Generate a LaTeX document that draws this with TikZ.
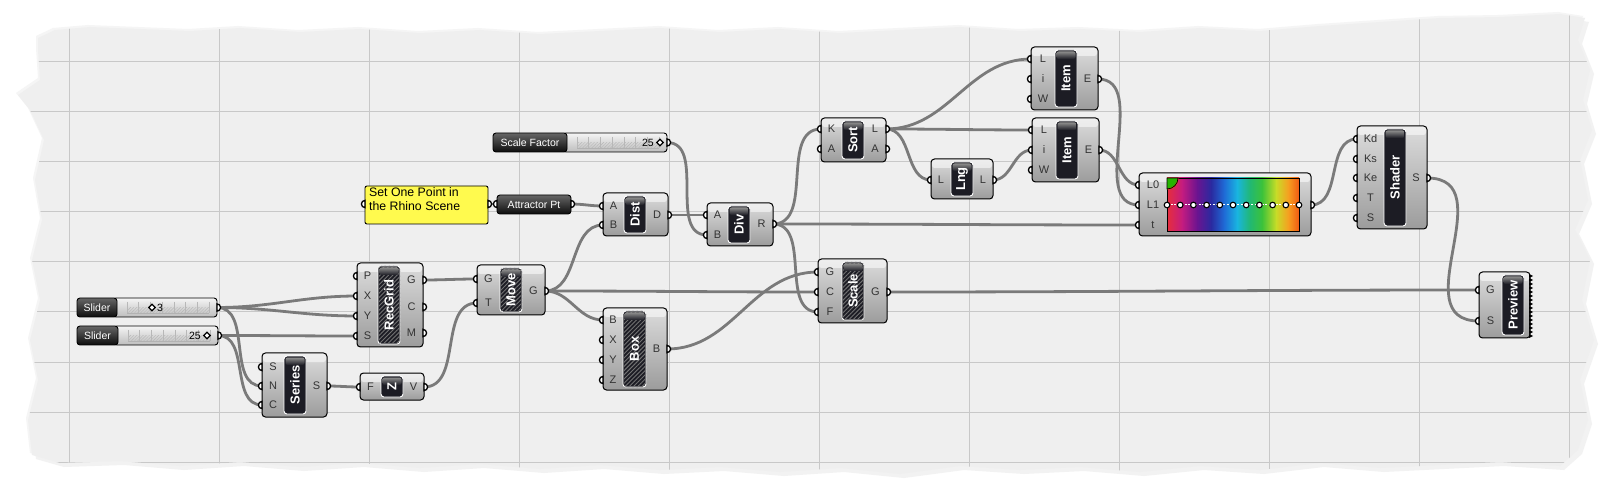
\documentclass[tikz,border=0pt]{standalone}
\usepackage{fontspec}
\setmainfont{Liberation Sans}
\usetikzlibrary{fit,patterns.meta}
\pgfdeclarelayer{bg}
\pgfdeclarelayer{wires}
\pgfsetlayers{bg,wires,main}
\definecolor{paper}{HTML}{EFEFEF}
\definecolor{gridc}{HTML}{C8C8C8}
\definecolor{wirec}{HTML}{7A7A7A}
\definecolor{capc}{HTML}{1C1C24}
\definecolor{panelc}{HTML}{FFFA4E}
\definecolor{boxtop}{HTML}{DCDCDC}
\definecolor{boxbot}{HTML}{9C9C9C}
\definecolor{gA}{HTML}{E62E3C}
\definecolor{gB}{HTML}{C41C80}
\definecolor{gC}{HTML}{6A1490}
\definecolor{gD}{HTML}{2A2AA0}
\definecolor{gE}{HTML}{1F6BD6}
\definecolor{gF}{HTML}{19B5E0}
\definecolor{gG}{HTML}{22B872}
\definecolor{gH}{HTML}{3CC23A}
\definecolor{gI}{HTML}{C8DC28}
\definecolor{gJ}{HTML}{F5A020}
\definecolor{gK}{HTML}{F05A14}
\tikzset{
  ghbox/.style={draw=black, line width=1pt, rounded corners=3.5pt, top color=boxtop, bottom color=boxbot, inner sep=0pt},
  ghcap/.style={draw=white, line width=0.9pt, fill=capc, rounded corners=3pt, inner sep=0pt},
  hatchcap/.style={ghcap, postaction={pattern={Lines[angle=45,distance=3pt,line width=0.9pt]}, pattern color=black!55!white}},
  port/.style={draw=black, line width=1.3pt, fill=white},
  plabel/.style={font=\fontsize{11}{12}\selectfont, text=black!80, inner sep=0pt},
  cname/.style={font=\bfseries\fontsize{13}{14}\selectfont, text=white, rotate=90, inner sep=0pt},
  wire/.style={draw=wirec, line width=2.8pt, line cap=round},
  vallabel/.style={font=\fontsize{10.5}{12}\selectfont, text=black, inner sep=0pt},
}
\newcommand\ghinp[3]{%
  \coordinate (#1) at ({#2},{#3});
  \draw[port] ({#2},{#3-3.6}) arc[start angle=90,end angle=270,radius=3.6pt] -- cycle;}
\newcommand\ghoutp[3]{%
  \coordinate (#1) at ({#2},{#3});
  \draw[port] ({#2},{#3-3.6}) arc[start angle=90,end angle=-90,radius=3.6pt] -- cycle;}
\newcommand\ghin[5]{\ghinp{#1}{#2}{#3}\node[plabel] at ({#4},{#3}) {#5};}
\newcommand\ghout[5]{\ghoutp{#1}{#2}{#3}\node[plabel] at ({#4},{#3}) {#5};}
\newcommand\ghcomp[9]{%
  \node[ghbox, fit={(#2,#3) (#4,#5)}] (#1) {};
  \fill[white, opacity=0.55, rounded corners=2.5pt] ({#2+1},{#3+1}) rectangle ({#4-1},{#3+9});
  \node[#9, fit={(#6,#3+3) (#7,#5-3)}] (#1cap) {};
  \shade[top color=black!45, bottom color=capc, rounded corners=2pt] ({#6+1.5},{#3+4.5}) rectangle ({#7-1.5},{#3+12});
  \node[cname] at (#1cap.center) {#8};}
\newcommand\ghslider[8]{%
  \node[fit={(#4-4,#3) (#5,#6)}, inner sep=0pt, draw=black, line width=0.9pt, rounded corners=3pt, top color=black!4, bottom color=black!26] (#1) {};
  \fill[pattern={Lines[angle=45,distance=2.2pt,line width=0.45pt]}, pattern color=black!28] ({#4+10},{(#3+#6)/2}) rectangle ({#5-8},{#6-4});
  \foreach \t in {0,...,7} \draw[black!28, line width=0.6pt] ({#4+10+\t*(#5-#4-18)/7},{#3+4}) -- ({#4+10+\t*(#5-#4-18)/7},{#6-4});
  \draw[black!30, line width=0.5pt] ({#4+10},{#6-4}) -- ({#5-8},{#6-4});
  \node[fit={(#2,#3) (#4,#6)}, inner sep=0pt, draw=black, line width=0.9pt, rounded corners=3pt, top color=black!60, bottom color=black!95] (#1lab) {};
  \node[font=\fontsize{10.5}{12}\selectfont, text=white, inner sep=0pt] at (#1lab.center) {#7};
  \ghoutp{#1o}{#5}{#8}}
\newcommand\ghdiam[2]{\draw[black, line width=1.3pt, fill=white] ({#1},{#2-3.2}) -- ({#1+3.2},{#2}) -- ({#1},{#2+3.2}) -- ({#1-3.2},{#2}) -- cycle;}
\def\paperpts{(38,38) -- (55,30) -- (90,27) -- (140,29) -- (190,31) -- (240,28) -- (300,32) -- (360,29) -- (420,33) -- (480,30) -- (540,34) -- (600,31) -- (660,28) -- (720,32) -- (780,29) -- (840,33) -- (900,30) -- (960,27) -- (1020,31) -- (1080,29) -- (1140,32) -- (1200,28) -- (1260,31) -- (1320,26) -- (1380,22) -- (1440,18) -- (1500,17) -- (1560,14) -- (1585,18) -- (1578,40) -- (1590,70) -- (1583,100) -- (1592,130) -- (1580,160) -- (1588,200) -- (1575,230) -- (1590,260) -- (1582,300) -- (1594,340) -- (1580,380) -- (1588,420) -- (1578,450) -- (1560,466) -- (1500,462) -- (1440,465) -- (1380,468) -- (1320,463) -- (1260,470) -- (1200,466) -- (1140,472) -- (1080,467) -- (1020,470) -- (960,466) -- (900,474) -- (840,468) -- (780,472) -- (720,467) -- (660,470) -- (600,465) -- (540,469) -- (480,464) -- (420,468) -- (360,463) -- (300,467) -- (240,462) -- (180,466) -- (120,461) -- (60,463) -- (32,455) -- (28,420) -- (38,380) -- (30,340) -- (40,300) -- (32,260) -- (42,220) -- (35,180) -- (44,140) -- (30,110) -- (18,95) -- (40,80) -- (38,50) -- cycle}
\begin{document}
\begin{tikzpicture}[x=1pt,y=-1pt]
\useasboundingbox (0,0) rectangle (1604,494);
\begin{pgfonlayer}{bg}
\fill[white] (0,0) rectangle (1604,494);
\fill[black!5, shift={(4,4)}] \paperpts;
\fill[black!4, shift={(-2,-2)}] \paperpts;
\begin{scope}
\clip \paperpts;
\fill[paper] (0,0) rectangle (1604,494);
\foreach \gx in {69,219,...,1569} \draw[gridc, line width=1pt] (\gx,0) -- (\gx,494);
\foreach \gy in {12,62,...,462} \draw[gridc, line width=1pt] (0,\gy) -- (1604,\gy);
\end{scope}
\end{pgfonlayer}

% sliders
\ghslider{sa}{77}{298}{117}{217}{317}{Slider}{307.5}
\ghdiam{152}{307.5}
\node[vallabel, anchor=west] at (157,307.5) {3};
\ghslider{sb}{77}{326}{118}{218}{345}{Slider}{335.5}
\node[vallabel, anchor=east] at (201,335.5) {25};
\ghdiam{207}{335.5}
\ghslider{sf}{493}{133}{567}{667}{152}{Scale Factor}{142.5}
\node[vallabel, anchor=east] at (654,142.5) {25};
\ghdiam{660}{142.5}

% panel and attractor
\node[fit={(365,186) (488,224)}, inner sep=0pt, draw=black, line width=0.9pt, fill=panelc, rounded corners=2pt] (pn) {};
\node[anchor=north west, align=left, font=\fontsize{12.3}{14.5}\selectfont, inner sep=0pt] (pntext) at (369,187) {Set One Point in\\the Rhino Scene};
\ghinp{pnL}{365}{204}
\ghoutp{pnR}{488}{204}
\node[fit={(497,195) (571,214)}, inner sep=0pt, draw=black, line width=0.9pt, rounded corners=3pt, top color=black!60, bottom color=black!95] (ap) {};
\node[font=\fontsize{10.5}{12}\selectfont, text=white, inner sep=0pt] at (ap.center) {Attractor Pt};
\ghinp{apI}{497}{204}
\ghoutp{apO}{571}{204}

% RecGrid
\ghcomp{rg}{357}{263}{423}{347}{378}{400}{RecGrid}{hatchcap}
\ghin{rgP}{357}{276}{367.5}{P}
\ghin{rgX}{357}{296}{367.5}{X}
\ghin{rgY}{357}{316}{367.5}{Y}
\ghin{rgS}{357}{336}{367.5}{S}
\ghout{rgG}{423}{280}{411.5}{G}
\ghout{rgC}{423}{307}{411.5}{C}
\ghout{rgM}{423}{333}{411.5}{M}
% Move
\ghcomp{mv}{477}{265}{545}{315}{500}{522}{Move}{hatchcap}
\ghin{mvG}{477}{279}{488.5}{G}
\ghin{mvT}{477}{303}{488.5}{T}
\ghout{mvO}{545}{291}{533.5}{G}
% Series
\ghcomp{se}{262}{353}{327}{417}{284}{306}{Series}{ghcap}
\ghin{seS}{262}{367}{273}{S}
\ghin{seN}{262}{386}{273}{N}
\ghin{seC}{262}{405}{273}{C}
\ghout{seO}{327}{386}{316.5}{S}
% Unit Z
\ghcomp{zv}{360}{373}{424}{400}{381}{403}{Z}{ghcap}
\ghin{zvF}{360}{387}{370.5}{F}
\ghout{zvV}{424}{387}{413.5}{V}
% Dist
\ghcomp{di}{603}{193}{668}{236}{624}{646}{Dist}{ghcap}
\ghin{diA}{603}{206}{613.5}{A}
\ghin{diB}{603}{225}{613.5}{B}
\ghout{diD}{668}{215}{657}{D}
% Div
\ghcomp{dv}{707}{203}{773}{246}{728}{750}{Div}{ghcap}
\ghin{dvA}{707}{215}{717.5}{A}
\ghin{dvB}{707}{235}{717.5}{B}
\ghout{dvR}{773}{224}{761.5}{R}
% Box
\ghcomp{bx}{603}{308}{667}{390}{623}{646}{Box}{hatchcap}
\ghin{bxB}{603}{320}{613}{B}
\ghin{bxX}{603}{340}{613}{X}
\ghin{bxY}{603}{360}{613}{Y}
\ghin{bxZ}{603}{380}{613}{Z}
\ghout{bxO}{667}{349}{656.5}{B}
% Scale
\ghcomp{sc}{818}{259}{887}{323}{842}{864}{Scale}{hatchcap}
\ghin{scG}{818}{272}{830}{G}
\ghin{scC}{818}{292}{830}{C}
\ghin{scF}{818}{312}{830}{F}
\ghout{scO}{887}{292}{875.5}{G}
% Sort
\ghcomp{so}{821}{118}{886}{162}{842}{864}{Sort}{ghcap}
\ghin{soK}{821}{129}{831.5}{K}
\ghin{soA}{821}{149}{831.5}{A}
\ghout{soL}{886}{129}{875}{L}
\ghout{soAo}{886}{149}{875}{A}
% Lng
\ghcomp{ln}{931}{159}{993}{199}{951}{973}{Lng}{ghcap}
\ghin{lnI}{931}{180}{941}{L}
\ghout{lnO}{993}{180}{983}{L}
% Items
\ghcomp{ia}{1031}{47}{1098}{110}{1055}{1077}{Item}{ghcap}
\ghin{iaL}{1031}{59}{1043}{L}
\ghin{iai}{1031}{79}{1043}{i}
\ghin{iaW}{1031}{99}{1043}{W}
\ghout{iaE}{1098}{79}{1087.5}{E}
\ghcomp{ib}{1032}{118}{1099}{182}{1056}{1078}{Item}{ghcap}
\ghin{ibL}{1032}{130}{1044}{L}
\ghin{ibi}{1032}{150}{1044}{i}
\ghin{ibW}{1032}{170}{1044}{W}
\ghout{ibE}{1099}{150}{1088.5}{E}
% Gradient
\node[ghbox, fit={(1139,173) (1311,236)}] (gr) {};
\fill[white, opacity=0.55, rounded corners=2.5pt] (1140,174) rectangle (1310,182);
\shade[left color=gA, right color=gB] (1167,178) rectangle (1182.3,231);
\shade[left color=gB, right color=gC] (1182,178) rectangle (1197.3,231);
\shade[left color=gC, right color=gD] (1197,178) rectangle (1211.3,231);
\shade[left color=gD, right color=gE] (1211,178) rectangle (1224.3,231);
\shade[left color=gE, right color=gF] (1224,178) rectangle (1237.3,231);
\shade[left color=gF, right color=gG] (1237,178) rectangle (1250.3,231);
\shade[left color=gG, right color=gH] (1250,178) rectangle (1262.3,231);
\shade[left color=gH, right color=gI] (1262,178) rectangle (1276.3,231);
\shade[left color=gI, right color=gJ] (1276,178) rectangle (1288.3,231);
\shade[left color=gJ, right color=gK] (1288,178) rectangle (1299,231);
\draw[black, line width=0.9pt] (1167,178) rectangle (1299,231);
\fill[green!65!black!85!yellow] (1167,178) -- (1178,178) arc[start angle=0,end angle=-90,radius=11pt] -- cycle;
\draw[orange, line width=1pt] (1178,178) arc[start angle=0,end angle=-90,radius=11pt];
\draw[black, line width=0.8pt] (1167,178) -- (1178,178) arc[start angle=0,end angle=-90,radius=11pt] -- cycle;
\draw[white, line width=1pt, dash pattern=on 2pt off 1.5pt] (1167,205) -- (1299,205);
\foreach \k in {0,...,10} \draw[black, line width=1.1pt, fill=white] ({1167+\k*13.2},205) circle (2.8pt);
\ghin{grL0}{1139}{185}{1153}{L0}
\ghin{grL1}{1139}{205}{1153}{L1}
\ghin{grT}{1139}{225}{1153}{t}
\ghoutp{grO}{1311}{205}
% Shader
\ghcomp{sh}{1357}{126}{1427}{229}{1384}{1406}{Shader}{ghcap}
\ghin{shKd}{1357}{139}{1370.5}{Kd}
\ghin{shKs}{1357}{159}{1370.5}{Ks}
\ghin{shKe}{1357}{178}{1370.5}{Ke}
\ghin{shT}{1357}{198}{1370.5}{T}
\ghin{shS}{1357}{218}{1370.5}{S}
\ghout{shO}{1427}{178}{1416}{S}
% Preview
\ghcomp{pv}{1479}{272}{1530}{338}{1502}{1524}{Preview}{ghcap}
\ghin{pvG}{1479}{290}{1490.5}{G}
\ghin{pvS}{1479}{321}{1490.5}{S}
\foreach \k in {0,...,15} \fill[black] (1529,{274+\k*4}) -- ++(4,2) -- ++(-4,2) -- cycle;

% wires
\begin{pgfonlayer}{wires}
\draw[wire] (sao) to[out=0,in=180] (rgX);
\draw[wire] (sao) to[out=0,in=180] (rgY);
\draw[wire] (sao) to[out=0,in=180] (seN);
\draw[wire] (sbo) to[out=0,in=180] (rgS);
\draw[wire] (sbo) to[out=0,in=180] (seC);
\draw[wire] (rgG) to[out=0,in=180] (mvG);
\draw[wire] (seO) to[out=0,in=180] (zvF);
\draw[wire] (zvV) to[out=0,in=180] (mvT);
\draw[wire] (mvO) to[out=0,in=180] (diB);
\draw[wire] (mvO) to[out=0,in=180] (bxB);
\draw[wire] (mvO) to[out=0,in=180] (scC);
\draw[wire] (pnR) to[out=0,in=180] (apI);
\draw[wire] (apO) to[out=0,in=180] (diA);
\draw[wire] (diD) to[out=0,in=180] (dvA);
\draw[wire] (sfo) to[out=0,in=180] (dvB);
\draw[wire] (dvR) to[out=0,in=180] (soK);
\draw[wire] (dvR) to[out=0,in=180] (grT);
\draw[wire] (dvR) to[out=0,in=180] (scF);
\draw[wire] (bxO) to[out=0,in=180] (scG);
\draw[wire] (soL) to[out=0,in=180] (iaL);
\draw[wire] (soL) to[out=0,in=180] (ibL);
\draw[wire] (soL) to[out=0,in=180] (lnI);
\draw[wire] (lnO) to[out=0,in=180] (ibi);
\draw[wire] (iaE) to[out=0,in=180] (grL1);
\draw[wire] (ibE) to[out=0,in=180] (grL0);
\draw[wire] (grO) to[out=0,in=180] (shKd);
\draw[wire] (shO) to[out=0,in=180, looseness=1.3] (pvS);
\draw[wire] (scO) to[out=0,in=180] (pvG);
\end{pgfonlayer}
\end{tikzpicture}
\end{document}
